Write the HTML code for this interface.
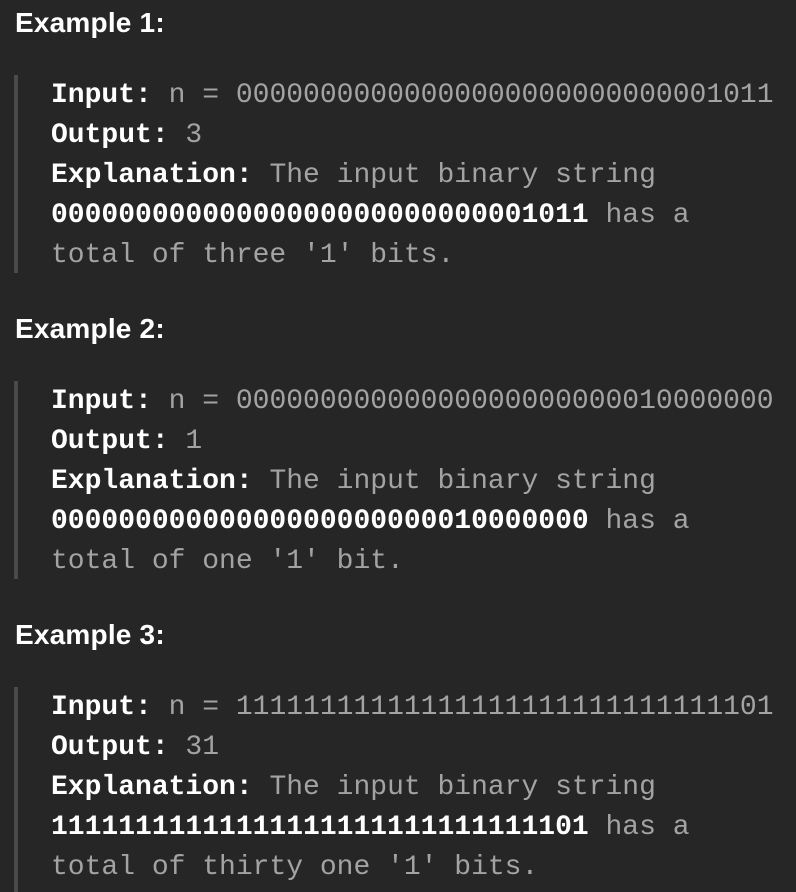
<!DOCTYPE html>
<html><head><meta charset="utf-8"><style>
body{margin:0;background:#262626;width:796px;height:892px;overflow:hidden;position:relative}
.h{position:absolute;left:15px;font:bold 28px "Liberation Sans",sans-serif;color:#fff;line-height:30px;letter-spacing:0.2px}
.bar{position:absolute;left:14px;width:4px;background:#4a4a4a}
.l{position:absolute;left:51px;font:28px/40px "Liberation Mono",monospace;color:#a3a3a3;white-space:pre}
.l b{color:#fff}
</style></head><body>
<div class="h" style="top:8px">Example 1:</div>
<div class="bar" style="top:75px;height:198px"></div>
<div class="l" style="top:76px"><b>Input:</b> n = 00000000000000000000000000001011</div>
<div class="l" style="top:116px"><b>Output:</b> 3</div>
<div class="l" style="top:156px"><b>Explanation:</b> The input binary string</div>
<div class="l" style="top:196px"><b>00000000000000000000000000001011</b> has a</div>
<div class="l" style="top:236px">total of three '1' bits.</div>

<div class="h" style="top:314px">Example 2:</div>
<div class="bar" style="top:381px;height:198px"></div>
<div class="l" style="top:382px"><b>Input:</b> n = 00000000000000000000000010000000</div>
<div class="l" style="top:422px"><b>Output:</b> 1</div>
<div class="l" style="top:462px"><b>Explanation:</b> The input binary string</div>
<div class="l" style="top:502px"><b>00000000000000000000000010000000</b> has a</div>
<div class="l" style="top:542px">total of one '1' bit.</div>

<div class="h" style="top:620px">Example 3:</div>
<div class="bar" style="top:687px;height:205px"></div>
<div class="l" style="top:688px"><b>Input:</b> n = 11111111111111111111111111111101</div>
<div class="l" style="top:728px"><b>Output:</b> 31</div>
<div class="l" style="top:768px"><b>Explanation:</b> The input binary string</div>
<div class="l" style="top:808px"><b>11111111111111111111111111111101</b> has a</div>
<div class="l" style="top:848px">total of thirty one '1' bits.</div>
</body></html>
